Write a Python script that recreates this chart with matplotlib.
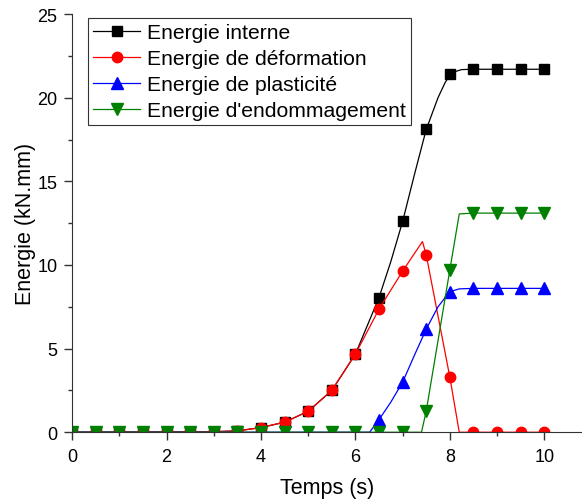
import numpy as np
import matplotlib.pyplot as plt
from matplotlib.ticker import MultipleLocator

plt.rcParams['font.family'] = ['Liberation Sans', 'DejaVu Sans']

# marker points (every 0.5 s)
t = [0, 0.5, 1, 1.5, 2, 2.5, 3, 3.5, 4, 4.5, 5, 5.5, 6, 6.5, 7, 7.5, 8, 8.5, 9, 9.5, 10]
e_interne = [0, 0, 0, 0, 0, 0, 0.03, 0.08, 0.28, 0.6, 1.25, 2.5, 4.67, 8.05, 12.6, 18.1, 21.4, 21.7, 21.7, 21.7, 21.7]
e_deform = [0, 0, 0, 0, 0, 0, 0.03, 0.08, 0.28, 0.6, 1.25, 2.5, 4.67, 7.36, 9.63, 10.6, 3.3, 0, 0, 0, 0]
e_plast = [0, 0, 0, 0, 0, 0, 0, 0, 0, 0, 0, 0, 0, 0.75, 2.99, 6.16, 8.4, 8.6, 8.6, 8.6, 8.6]
e_endom = [0, 0, 0, 0, 0, 0, 0, 0, 0, 0, 0, 0, 0, 0, 0, 1.26, 9.7, 13.1, 13.1, 13.1, 13.1]

# curve points (denser)
t_int = [0, 3, 3.5, 4, 4.5, 5, 5.5, 6, 6.5, 6.75, 7, 7.25, 7.5, 7.75, 7.9, 8, 8.1, 8.25, 8.5, 10]
c_int = [0, 0.03, 0.08, 0.28, 0.6, 1.25, 2.5, 4.67, 8.05, 10.2, 12.6, 15.4, 18.1, 20.0, 20.9, 21.35, 21.55, 21.68, 21.7, 21.7]
t_def = [0, 3, 3.5, 4, 4.5, 5, 5.5, 6, 6.5, 7, 7.42, 7.5, 8, 8.2, 10]
c_def = [0, 0.03, 0.08, 0.28, 0.6, 1.25, 2.5, 4.67, 7.36, 9.63, 11.4, 10.6, 3.3, 0, 0]
t_pla = [0, 6.3, 6.5, 6.75, 7, 7.25, 7.5, 7.75, 8, 8.2, 8.5, 10]
c_pla = [0, 0, 0.75, 1.8, 2.99, 4.6, 6.16, 7.5, 8.4, 8.57, 8.6, 8.6]
t_end = [0, 7.4, 7.5, 8, 8.2, 8.5, 10]
c_end = [0, 0, 1.26, 9.7, 13.05, 13.1, 13.1]

series = [
    ('Energie interne', e_interne, t_int, c_int, 'black', 's', 6.5),
    ('Energie de déformation', e_deform, t_def, c_def, 'red', 'o', 7.5),
    ('Energie de plasticité', e_plast, t_pla, c_pla, 'blue', '^', 8),
    ("Energie d'endommagement", e_endom, t_end, c_end, 'green', 'v', 8),
]

fig = plt.figure(figsize=(5.82, 5.02), dpi=100)
ax = fig.add_axes([0.124, 0.137, 0.876, 0.833])

for name, marks, tl, cl, col, mk, ms in series:
    ax.plot(tl, cl, color=col, lw=0.9)
    ax.plot(t, marks, linestyle='none', marker=mk, color=col, markersize=ms)
    # legend proxy
    ax.plot([], [], color=col, lw=0.9, marker=mk, markersize=ms, label=name)

ax.set_xlim(0, 10.8)
ax.set_ylim(0, 25)
ax.xaxis.set_major_locator(MultipleLocator(2))
ax.xaxis.set_minor_locator(MultipleLocator(1))
ax.yaxis.set_major_locator(MultipleLocator(5))
ax.yaxis.set_minor_locator(MultipleLocator(2.5))
ax.tick_params(which='major', direction='out', length=6, width=1, labelsize=13, colors='#333333', labelcolor='black')
ax.tick_params(axis='x', which='major', pad=5)
ax.tick_params(axis='y', which='major', pad=4.5)
ax.tick_params(which='minor', direction='out', length=3, width=1, colors='#333333')
for s in ['left', 'bottom']:
    ax.spines[s].set_color('#333333')
ax.spines['top'].set_visible(False)
ax.spines['right'].set_visible(False)
ax.set_xlabel('Temps (s)', fontsize=15.5, labelpad=9)
ax.set_ylabel('Energie (kN.mm)', fontsize=15.5, labelpad=1)

leg = ax.legend(loc='upper left', bbox_to_anchor=(88 / 582, 1 - 19 / 502),
                bbox_transform=fig.transFigure, borderaxespad=0, fontsize=15.2,
                fancybox=False, edgecolor='#333333', framealpha=1,
                handlelength=2.2, handletextpad=0.35, borderpad=0.25, labelspacing=0.33)
leg.get_frame().set_linewidth(0.8)

fig.savefig('out.png', dpi=100)
